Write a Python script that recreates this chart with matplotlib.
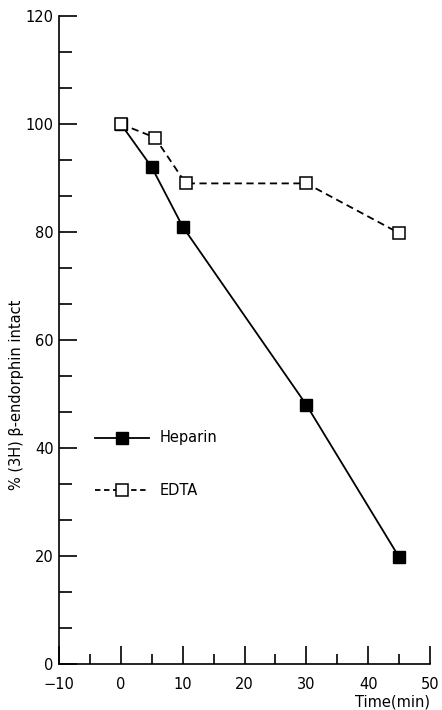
import matplotlib.pyplot as plt
import numpy as np

time_heparin = [0, 5, 10, 30, 45]
heparin = [100, 92, 81, 48, 19.8]
time_edta = [0, 5.5, 10.5, 30, 45]
edta = [100, 97.5, 89, 89, 79.8]

plt.rcParams['font.family'] = ['DejaVu Sans']

fig = plt.figure(figsize=(4.42, 7.10), dpi=100)
ax = fig.add_axes([59 / 442, 46 / 710, 371 / 442, 648 / 710])

ax.plot(time_heparin, heparin, color='black', lw=1.3, marker='s', ms=8,
        mfc='black', mec='black')
ax.plot(time_edta, edta, color='black', lw=1.3, ls=(0, (4, 2.5)), marker='s', ms=8,
        mfc='white', mec='black', mew=1.1)

ax.set_xlim(-10, 50)
ax.set_ylim(0, 120)
ax.spines['top'].set_visible(False)
ax.spines['right'].set_visible(False)
for s in ['left', 'bottom']:
    ax.spines[s].set_linewidth(1.2)

ax.set_xticks(np.arange(-10, 51, 10))
ax.set_xticks(np.arange(-5, 50, 10), minor=True)
ax.set_yticks(np.arange(0, 121, 20))
ax.set_yticks([v for v in np.arange(0, 120, 20 / 3) if round(v, 3) % 20 != 0], minor=True)
ax.tick_params(axis='x', which='major', direction='in', length=13, width=1.2,
               labelsize=10.5, pad=9.5)
ax.tick_params(axis='x', which='minor', direction='in', length=7, width=1.2)
ax.tick_params(axis='y', which='major', direction='in', length=13, width=1.2,
               labelsize=10.5, pad=4)
ax.tick_params(axis='y', which='minor', direction='in', length=9, width=1.2)

ax.set_ylabel('% (3H) β-endorphin intact', fontsize=10.5)
ax.yaxis.set_label_coords(-0.095, 0.415)
ax.text(50, -7.0, 'Time(min)', fontsize=10.5, ha='right', va='center')

# legend drawn by hand
ax.plot([-4.2, 4.6], [41.9, 41.9], color='black', lw=1.3)
ax.plot([0.2], [41.9], marker='s', ms=8, color='black')
ax.text(6.3, 41.9, 'Heparin', fontsize=10.5, va='center')
ax.plot([-4.2, 4.6], [32.2, 32.2], color='black', lw=1.3, ls=(0, (3, 2)))
ax.plot([0.2], [32.2], marker='s', ms=8, mfc='white', mec='black', mew=1.1)
ax.text(6.3, 32.2, 'EDTA', fontsize=10.5, va='center')

fig.savefig('out.png', dpi=100)
